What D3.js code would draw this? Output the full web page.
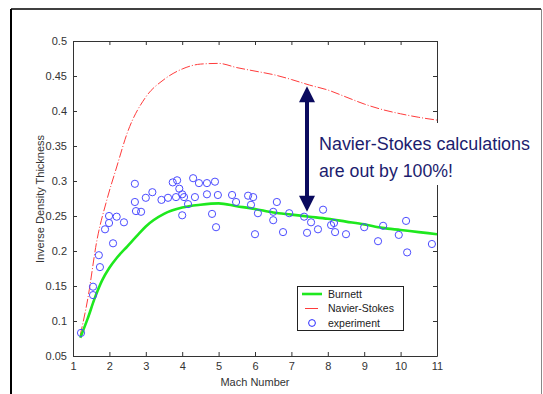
<!DOCTYPE html>
<meta charset="utf-8">
<html>
  <head>
    <title>Inverse density thickness</title>
    <style>
      html,body{ margin:0; padding:0; background:#fff; }
      text{ font-family: Arial, 'Liberation Sans', Helvetica, sans-serif; }
      .axis text{ font-size: 11px; fill:#333; }
      .axis path, .axis line{ stroke:#333; }
      .note{ font-size: 17.5px; fill:#1c1c6e; }
      .legend text{ font-size: 10.5px; fill:#222; }
    </style>
  </head>
  <body>
    <svg xmlns="http://www.w3.org/2000/svg"></svg>
    <script src="https://d3js.org/d3.v7.min.js"></script>
    <script type="text/javascript">
      var width = 543, height = 394;

      // x ticks / y ticks
      var xTicks = [1,2,3,4,5,6,7,8,9,10,11];
      var yTicks = [0.05,0.1,0.15,0.2,0.25,0.3,0.35,0.4,0.45,0.5];

      // Burnett solution [Mach, value]
      var burnett = [[1.2,0.076],[1.4,0.103],[1.6,0.133],[1.8,0.158],[2.0,0.176],[2.2,0.19],[2.5,0.207],
        [2.8,0.224],[3.0,0.235],[3.5,0.253],[4.0,0.262],[4.5,0.266],[5.0,0.268],[5.5,0.264],[6.0,0.26],
        [6.5,0.255],[7.0,0.252],[7.5,0.249],[8.0,0.246],[8.5,0.242],[9.0,0.238],[9.5,0.233],[10.0,0.23],
        [10.5,0.227],[11,0.224]];

      // Navier-Stokes solution
      var navierStokes = [[1.2,0.08],[1.4,0.13],[1.66,0.216],[1.93,0.273],[2.2,0.32],[2.5,0.37],[3.0,0.42],
        [3.5,0.445],[4.0,0.46],[4.5,0.467],[5.0,0.468],[5.5,0.462],[6.0,0.457],[6.5,0.452],[7.0,0.445],
        [7.5,0.437],[8.0,0.43],[8.5,0.42],[9.0,0.41],[9.5,0.402],[10.0,0.396],[10.5,0.391],[11,0.387]];

      // experiment points
      var experiment = [[1.22,0.083],[1.55,0.149],[1.55,0.137],[1.74,0.177],[1.71,0.194],[1.88,0.231],
        [1.99,0.24],[1.99,0.25],[2.1,0.211],[2.2,0.249],[2.4,0.241],[2.7,0.296],[2.7,0.27],[2.73,0.257],
        [2.87,0.256],[3.0,0.276],[3.18,0.284],[3.43,0.273],[3.61,0.276],[3.74,0.298],[3.86,0.301],
        [3.83,0.277],[3.92,0.289],[4.0,0.281],[4.05,0.277],[4.0,0.251],[4.16,0.267],[4.3,0.304],
        [4.35,0.277],[4.46,0.297],[4.68,0.281],[4.68,0.297],[4.9,0.299],[4.82,0.253],[4.93,0.234],
        [4.98,0.28],[5.37,0.28],[5.48,0.27],[5.81,0.279],[5.95,0.277],[5.89,0.266],[6.08,0.254],
        [6.0,0.224],[6.6,0.27],[6.5,0.256],[6.5,0.244],[6.77,0.227],[6.94,0.254],[7.35,0.249],
        [7.43,0.226],[7.54,0.241],[7.73,0.231],[7.87,0.259],[8.09,0.237],[8.17,0.24],[8.2,0.227],
        [8.5,0.224],[9.0,0.234],[9.38,0.214],[9.52,0.236],[9.95,0.223],[10.15,0.243],[10.18,0.198],
        [10.86,0.21]];

      var legendItems = ['Burnett','Navier-Stokes','experiment'];

      var svg = d3.select('svg').attr('width', width).attr('height', height);

      // outer frame (figure border)
      svg.append('line').attr('x1',11).attr('x2',11).attr('y1',9).attr('y2',height)
        .attr('stroke','#000').attr('stroke-width',2);
      svg.append('line').attr('x1',11).attr('x2',541).attr('y1',9).attr('y2',9)
        .attr('stroke','#000').attr('stroke-width',1.5);
      svg.append('line').attr('x1',541.5).attr('x2',541.5).attr('y1',9).attr('y2',height)
        .attr('stroke','#888').attr('stroke-width',1);

      var x = d3.scaleLinear().domain([1,11]).range([73,437]);
      var y = d3.scaleLinear().domain([0.05,0.5]).range([356,41]);

      // axes, ticks pointing inward like matlab
      svg.append('g').attr('class','axis').attr('transform','translate(0,356)')
        .call(d3.axisBottom(x).tickValues(xTicks).tickSizeInner(-4).tickSizeOuter(0).tickPadding(6));
      svg.append('g').attr('class','axis').attr('transform','translate(0,41)')
        .call(d3.axisTop(x).tickValues(xTicks).tickSizeInner(-4).tickSizeOuter(0).tickFormat(''));
      svg.append('g').attr('class','axis').attr('transform','translate(73,0)')
        .call(d3.axisLeft(y).tickValues(yTicks).tickSizeInner(-4).tickSizeOuter(0).tickPadding(6).tickFormat(d3.format('')));
      svg.append('g').attr('class','axis').attr('transform','translate(437,0)')
        .call(d3.axisRight(y).tickValues(yTicks).tickSizeInner(-4).tickSizeOuter(0).tickFormat(''));

      var line = d3.line().x(function(d){ return x(d[0]); }).y(function(d){ return y(d[1]); })
        .curve(d3.curveMonotoneX);

      svg.append('path').datum(navierStokes).attr('d', line)
        .attr('fill','none').attr('stroke','#ff3b3b').attr('stroke-width',1)
        .attr('stroke-dasharray','9,2,1,2');

      svg.append('path').datum(burnett).attr('d', line)
        .attr('fill','none').attr('stroke','#1ee81e').attr('stroke-width',2.6);

      svg.append('g').selectAll('circle').data(experiment).enter().append('circle')
        .attr('cx', function(d){ return x(d[0]); })
        .attr('cy', function(d){ return y(d[1]); })
        .attr('r', 3.6)
        .attr('fill','none').attr('stroke','#4b4bff').attr('stroke-width',1);

      // axis labels
      svg.append('text').attr('x',255).attr('y',386).attr('text-anchor','middle')
        .style('font-size','11px').style('fill','#333').text('Mach Number');
      svg.append('text').attr('transform','translate(44,199) rotate(-90)').attr('text-anchor','middle')
        .style('font-size','11px').style('fill','#333').text('Inverse Density Thickness');

      // legend
      var leg = svg.append('g').attr('class','legend');
      leg.append('rect').attr('x',297.5).attr('y',286.5).attr('width',106).attr('height',44)
        .attr('fill','#fff').attr('stroke','#222').attr('stroke-width',1);
      var rows = leg.selectAll('g.row').data(legendItems).enter().append('g')
        .attr('class','row')
        .attr('transform', function(d,i){ return 'translate(0,' + (294 + i*14.5) + ')'; });
      rows.append('text').attr('x',328).attr('y',3.8).text(function(d){ return d; });
      leg.append('line').attr('x1',302).attr('x2',322).attr('y1',294).attr('y2',294)
        .attr('stroke','#1ee81e').attr('stroke-width',2.6);
      leg.append('line').attr('x1',305).attr('x2',318).attr('y1',308.5).attr('y2',308.5)
        .attr('stroke','#ff3b3b').attr('stroke-width',1);
      leg.append('circle').attr('cx',312).attr('cy',323).attr('r',3.4)
        .attr('fill','none').attr('stroke','#2a2aff').attr('stroke-width',1);

      // annotation: double-headed arrow and note (note box is white, hides the axis line)
      svg.append('defs').append('marker').attr('id','head')
        .attr('viewBox','0 0 10 10').attr('refX',2).attr('refY',5)
        .attr('markerWidth',4.5).attr('markerHeight',4)
        .attr('markerUnits','strokeWidth')
        .attr('orient','auto-start-reverse')
        .append('path').attr('d','M0,0 L10,5 L0,10 z').attr('fill','#0a0a5e');
      svg.append('line').attr('x1',307).attr('x2',307).attr('y1',99).attr('y2',199)
        .attr('stroke','#0a0a5e').attr('stroke-width',4)
        .attr('marker-start','url(#head)').attr('marker-end','url(#head)');

      svg.append('rect').attr('x',314).attr('y',123).attr('width',222).attr('height',62)
        .attr('fill','#fff');
      svg.append('text').attr('class','note').attr('x',319).attr('y',150)
        .attr('textLength',211).attr('lengthAdjust','spacingAndGlyphs')
        .text('Navier-Stokes calculations');
      svg.append('text').attr('class','note').attr('x',319).attr('y',177)
        .attr('textLength',134).attr('lengthAdjust','spacingAndGlyphs')
        .text('are out by 100%!');
    </script>
  </body>
</html>
